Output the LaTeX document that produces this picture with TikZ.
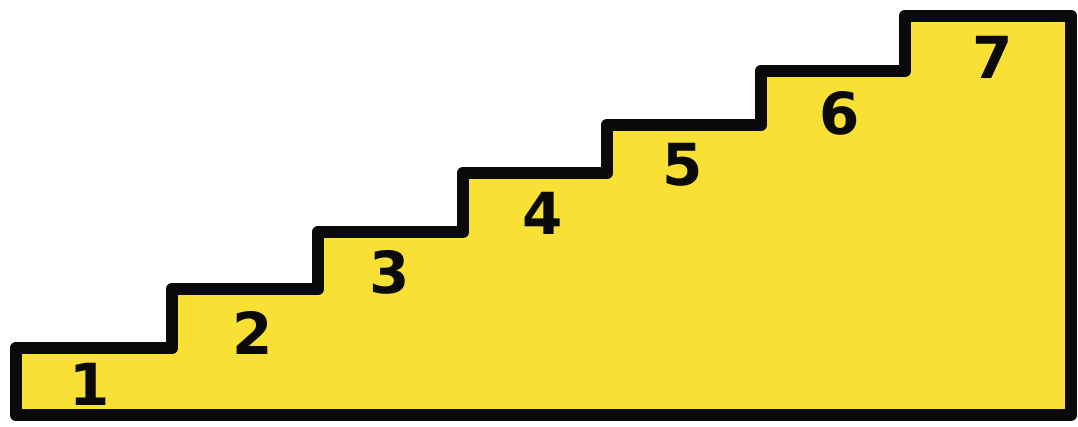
\documentclass[tikz,border=0pt]{standalone}
\usepackage{fontspec}
\setmainfont{DejaVu Sans}
\usepackage{xcolor}
\usepackage{tikz}
\usetikzlibrary{positioning}
\definecolor{stairyellow}{HTML}{F8E134}
\definecolor{stairline}{HTML}{0A0A0A}

\begin{document}
\begin{tikzpicture}[
    x=0.02cm, y=-0.02cm,
    stairs/.style={
        draw=stairline, fill=stairyellow,
        line width=7pt, line join=round, line cap=round
    },
    stepnum/.style={
        font=\fontsize{33}{33}\selectfont\bfseries,
        text=stairline, inner sep=0pt
    }
]

\useasboundingbox (0,0) rectangle (1078,426);

% staircase outline
\draw[stairs] (16,415) -- (16,348) -- (172,348) -- (172,289)
    -- (318,289) -- (318,232) -- (463,232) -- (463,173)
    -- (607,173) -- (607,125) -- (761,125) -- (761,71)
    -- (905,71) -- (905,16) -- (1071,16) -- (1071,415) -- cycle;

% step numbers
\node[stepnum] (n1) at (90,384) {1};
\node[stepnum] (n2) at (253,333) {2};
\node[stepnum] (n3) at (390,272) {3};
\node[stepnum] (n4) at (543,213) {4};
\node[stepnum] (n5) at (683,165) {5};
\node[stepnum] (n6) at (840,113) {6};
\node[stepnum] (n7) at (993,57) {7};

\end{tikzpicture}
\end{document}
